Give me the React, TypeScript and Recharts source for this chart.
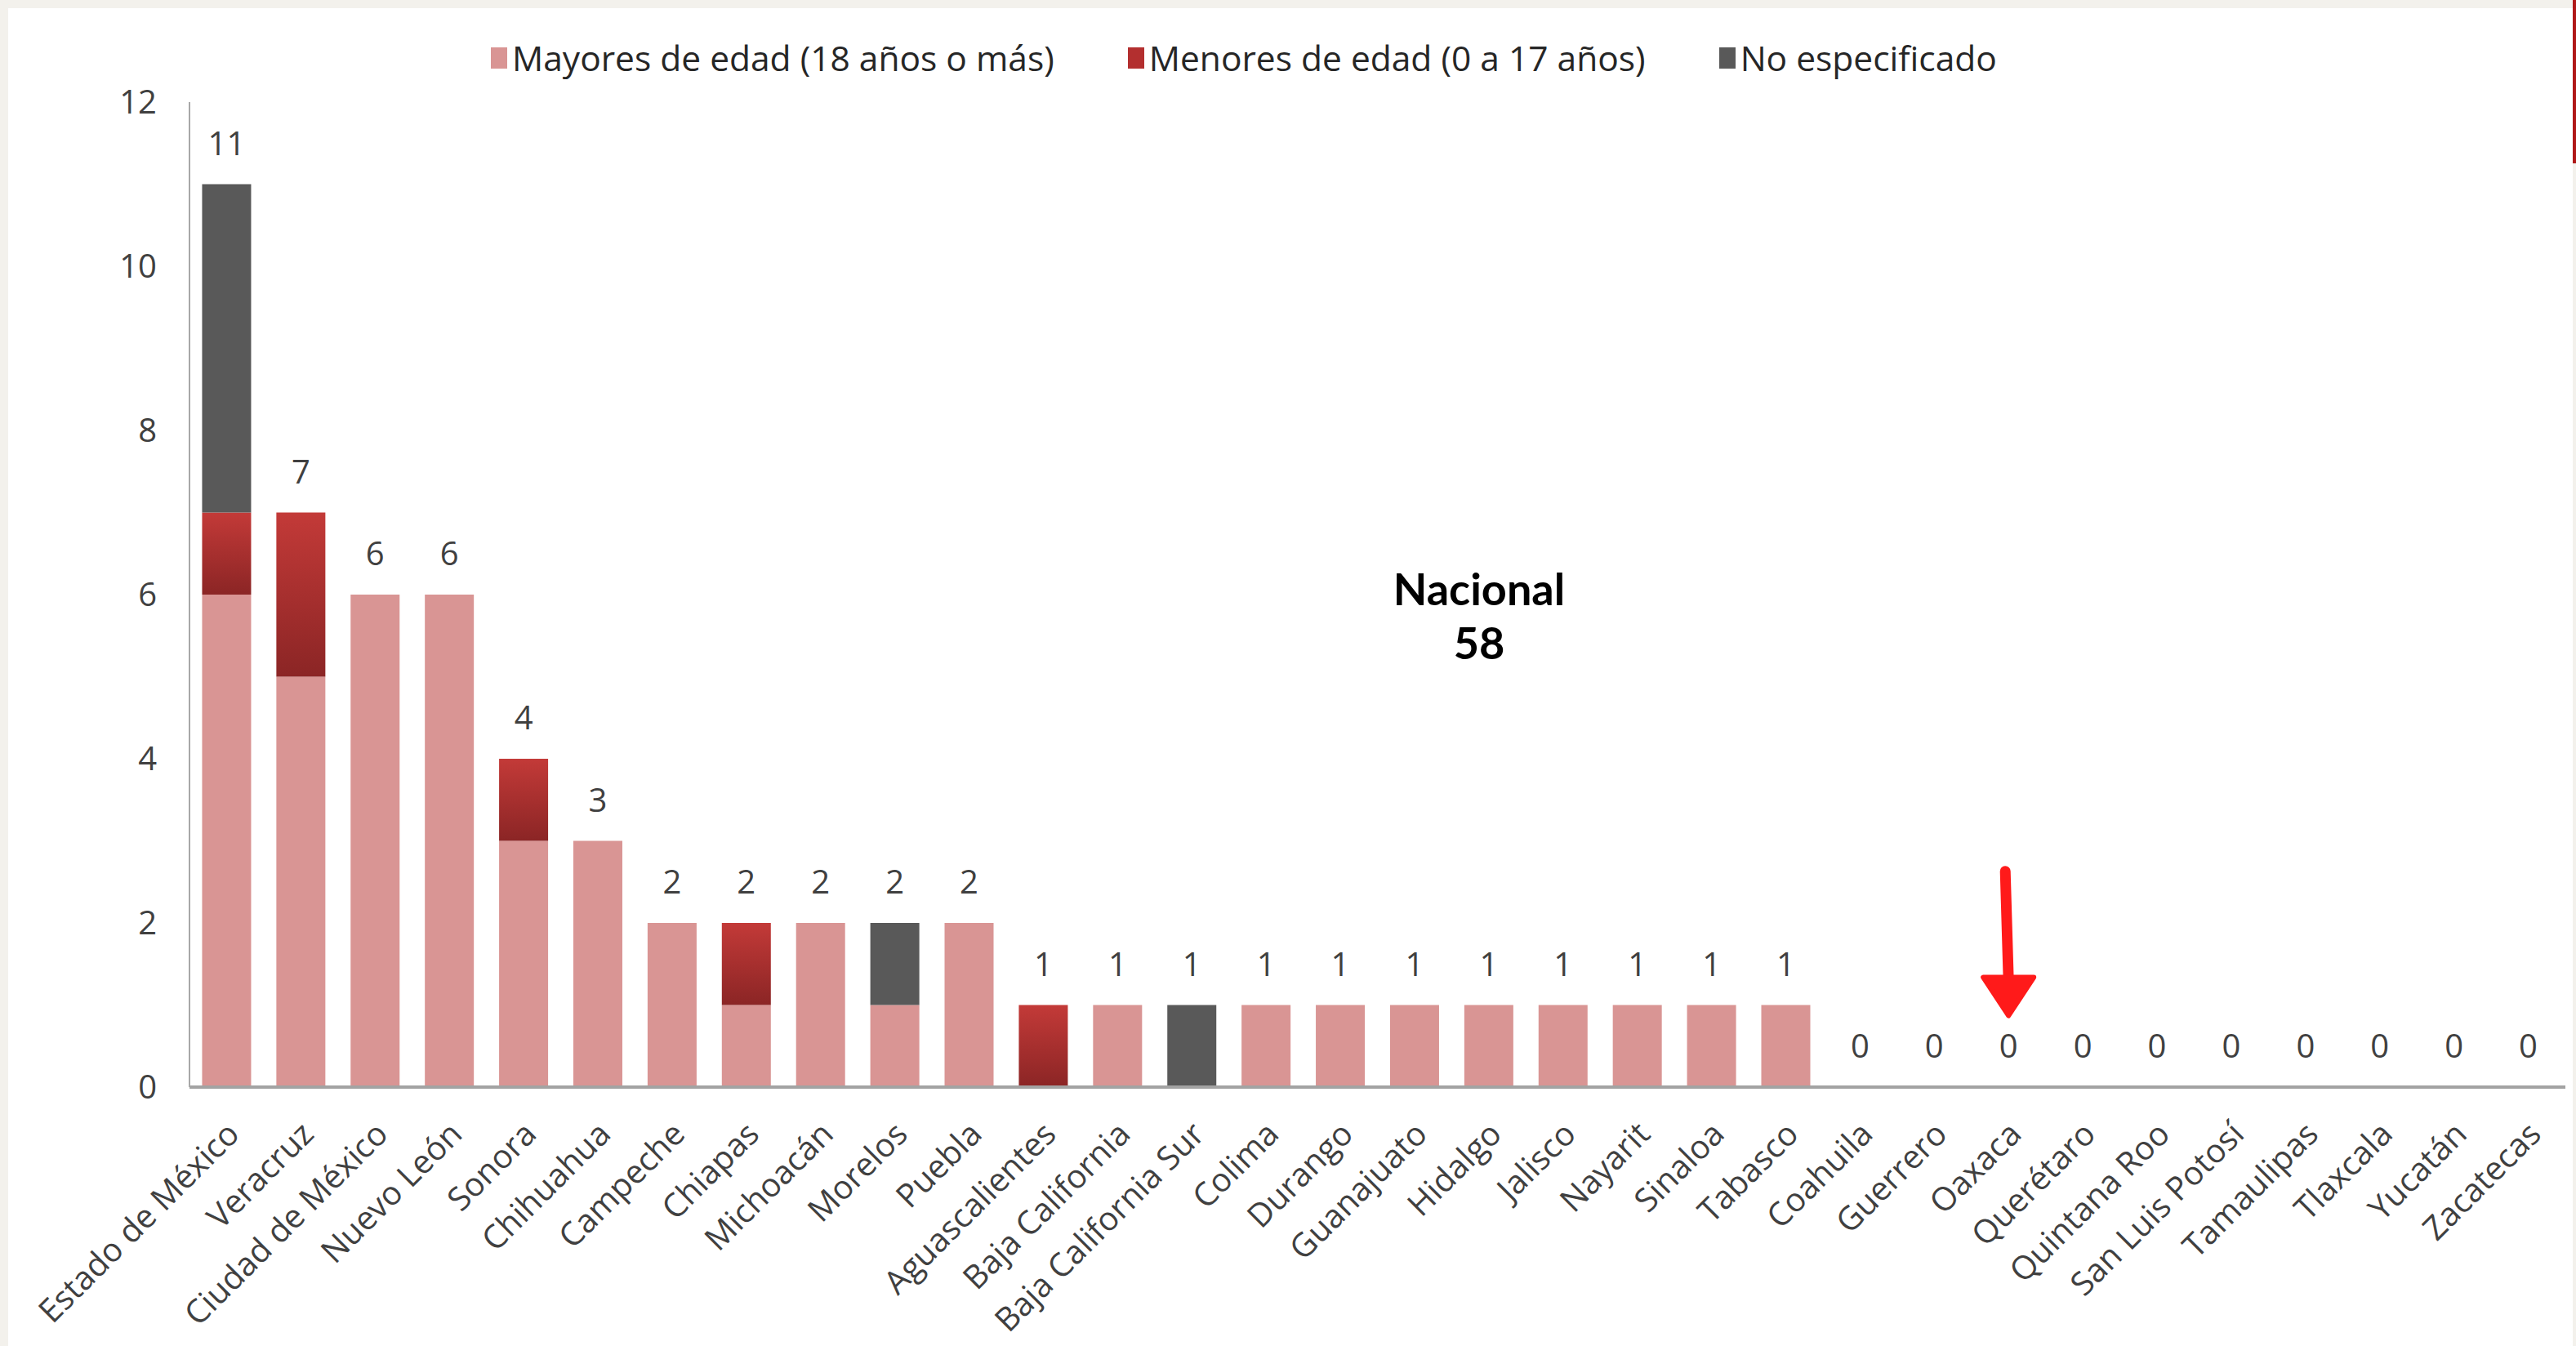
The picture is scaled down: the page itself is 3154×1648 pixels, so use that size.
import React from 'react';
import { ComposedChart, Bar, Line, XAxis, YAxis, LabelList, ReferenceLine } from 'recharts';

const estados = [
  'Estado de México', 'Veracruz', 'Ciudad de México', 'Nuevo León', 'Sonora', 'Chihuahua',
  'Campeche', 'Chiapas', 'Michoacán', 'Morelos', 'Puebla', 'Aguascalientes', 'Baja California',
  'Baja California Sur', 'Colima', 'Durango', 'Guanajuato', 'Hidalgo', 'Jalisco', 'Nayarit',
  'Sinaloa', 'Tabasco', 'Coahuila', 'Guerrero', 'Oaxaca', 'Querétaro', 'Quintana Roo',
  'San Luis Potosí', 'Tamaulipas', 'Tlaxcala', 'Yucatán', 'Zacatecas',
];
const mayores = [6, 5, 6, 6, 3, 3, 2, 1, 2, 1, 2, 0, 1, 0, 1, 1, 1, 1, 1, 1, 1, 1, 0, 0, 0, 0, 0, 0, 0, 0, 0, 0];
const menores = [1, 2, 0, 0, 1, 0, 0, 1, 0, 0, 0, 1, 0, 0, 0, 0, 0, 0, 0, 0, 0, 0, 0, 0, 0, 0, 0, 0, 0, 0, 0, 0];
const noEspecificado = [4, 0, 0, 0, 0, 0, 0, 0, 0, 1, 0, 0, 0, 1, 0, 0, 0, 0, 0, 0, 0, 0, 0, 0, 0, 0, 0, 0, 0, 0, 0, 0];
const yTicks = [0, 2, 4, 6, 8, 10, 12];
const nacional = 58;
// arrow points at Oaxaca, from about 2.63 down to 0.87
const flecha = { estado: 'Oaxaca', desde: 2.63, hasta: 0.87 };

const data = estados.map((estado, i) => ({
  estado,
  mayores: mayores[i],
  menores: menores[i],
  noEsp: noEspecificado[i],
  total: mayores[i] + menores[i] + noEspecificado[i],
}));

const FONT = '"Open Sans", "Noto Sans", sans-serif';
const COLOR_MAYORES = '#d99594';
const COLOR_NOESP = '#595959';

const legendItems = [
  { label: 'Mayores de edad (18 años o más)', color: COLOR_MAYORES },
  { label: 'Menores de edad (0 a 17 años)', color: '#b32f2f' },
  { label: 'No especificado', color: COLOR_NOESP },
];

const CategoryTick = (props: any) => {
  const { x, y, payload } = props;
  const ax = x + 8;
  const ay = y + 42;
  return (
    <text
      x={ax}
      y={ay}
      transform={`rotate(-45, ${ax}, ${ay})`}
      textAnchor="end"
      fontSize={40}
      fontFamily={FONT}
      fill="#404040"
      dy="0.35em"
    >
      {payload.value}
    </text>
  );
};

const Arrow = (props: any) => {
  const { x1, y1, x2, y2 } = props;
  if (x1 == null || y1 == null) return null;
  const top = Math.min(y1, y2);
  const tip = Math.max(y1, y2);
  const headTop = tip - 47;
  return (
    <g>
      <line x1={x1 - 4} y1={top} x2={x2} y2={headTop + 4} stroke="#ff1a1a" strokeWidth={13} strokeLinecap="round" />
      <path
        d={`M ${x2 - 31} ${headTop} L ${x2 + 31} ${headTop} L ${x2} ${tip} Z`}
        fill="#ff1a1a"
        stroke="#ff1a1a"
        strokeWidth={6}
        strokeLinejoin="round"
      />
    </g>
  );
};

const nacionalStyle: React.CSSProperties = {
  position: 'absolute', left: 1611, width: 400, height: 60, textAlign: 'center',
  fontFamily: 'Lato, "Open Sans", sans-serif', fontWeight: 700, fontSize: 54, lineHeight: '60px', color: '#000',
};

const App: React.FC = () => {
  return (
    <div style={{ position: 'absolute', left: 0, top: 0, width: 3154, height: 1648, background: '#f3f1ec', overflow: 'hidden' }}>
      <div style={{ position: 'absolute', left: 10, top: 10, width: 3140, height: 1638, background: '#ffffff' }} />
      <div style={{ position: 'absolute', left: 3150, top: 0, width: 4, height: 200, background: '#b01818' }} />

      {/* legend */}
      <div
        style={{
          position: 'absolute',
          left: 601,
          top: 42,
          display: 'flex',
          alignItems: 'center',
          fontFamily: FONT,
          fontSize: 42.5,
          color: '#262626',
          whiteSpace: 'nowrap',
        }}
      >
        {legendItems.map((item) => (
          <div key={item.label} style={{ display: 'flex', alignItems: 'center', marginRight: 90 }}>
            <span style={{ display: 'inline-block', width: 20, height: 26, background: item.color, marginRight: 6 }} />
            <span>{item.label}</span>
          </div>
        ))}
      </div>

      <div style={{ position: 'absolute', left: 0, top: 0 }}>
        <ComposedChart
          width={3154}
          height={1648}
          data={data}
          margin={{ top: 125, right: 13, left: 132, bottom: 7 }}
          barCategoryGap="17%"
        >
          <defs>
            <linearGradient id="gradMenores" x1="0" y1="0" x2="0" y2="1">
              <stop offset="0%" stopColor="#c33a38" />
              <stop offset="100%" stopColor="#8b2525" />
            </linearGradient>
          </defs>
          <XAxis
            dataKey="estado"
            interval={0}
            tickLine={false}
            axisLine={{ stroke: '#a3a3a3', strokeWidth: 4 }}
            tick={<CategoryTick />}
            height={310}
          />
          <YAxis
            domain={[0, 12]}
            ticks={yTicks}
            width={100}
            tickLine={false}
            tickSize={0}
            tickMargin={40}
            axisLine={{ stroke: '#a8a8a8', strokeWidth: 2 }}
            tick={{ fontSize: 40, fontFamily: FONT, fill: '#404040' }}
          />
          <Bar dataKey="mayores" stackId="a" fill={COLOR_MAYORES} isAnimationActive={false} />
          <Bar dataKey="menores" stackId="a" fill="url(#gradMenores)" isAnimationActive={false} />
          <Bar dataKey="noEsp" stackId="a" fill={COLOR_NOESP} isAnimationActive={false} />
          <Line dataKey="total" stroke="none" dot={false} activeDot={false} legendType="none" isAnimationActive={false}>
            <LabelList dataKey="total" position="top" offset={36} fontSize={40} fontFamily={FONT} fill="#404040" />
          </Line>
          <ReferenceLine
            segment={[{ x: flecha.estado, y: flecha.desde }, { x: flecha.estado, y: flecha.hasta }]}
            shape={<Arrow />}
            ifOverflow="visible"
          />
        </ComposedChart>
      </div>

      <div style={{ ...nacionalStyle, top: 691 }}>Nacional</div>
      <div style={{ ...nacionalStyle, top: 757 }}>{nacional}</div>
    </div>
  );
};

export default App;
